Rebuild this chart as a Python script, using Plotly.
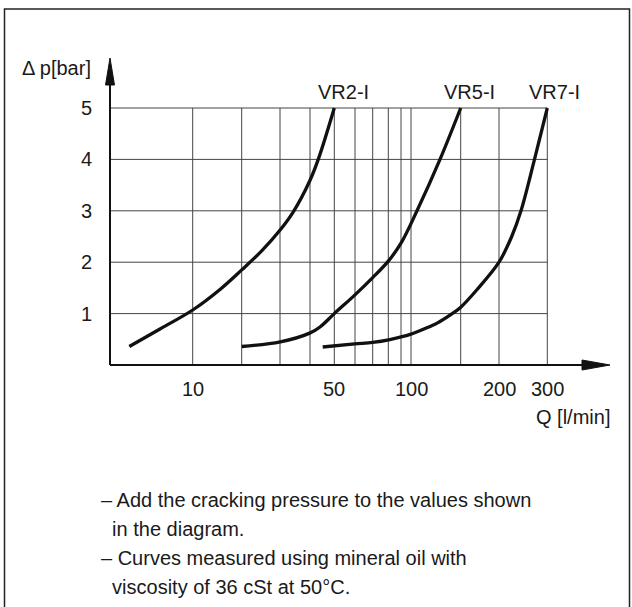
import plotly.graph_objects as go

# ---- data (x in chart position units along the schematic Q axis, y in bar) ----
grid_x = [82.7, 131.7, 170, 200, 224.3, 245, 262.7, 278.3, 291, 301, 350.7, 389, 437.3]
grid_y = [1, 2, 3, 4, 5]
x_tick_pos = [82.7, 224.3, 301, 389, 437.3]
x_tick_text = ["10", "50", "100", "200", "300"]
y_tick_vals = [1, 2, 3, 4, 5]

vr2_x = [19.3, 50, 82.7, 110, 131.7, 151.7, 170.3, 183.3, 199.7, 208.6, 224.3]
vr2_p = [0.36, 0.70, 1.07, 1.47, 1.85, 2.22, 2.63, 2.98, 3.58, 4.02, 5.0]

vr5_x = [131.7, 170.3, 199.7, 210, 224.3, 244.7, 262.7, 278.3, 291, 307, 330, 350.7]
vr5_p = [0.36, 0.45, 0.62, 0.74, 1.0, 1.36, 1.70, 2.02, 2.37, 3.0, 4.0, 5.0]

vr7_x = [212.7, 244.7, 262.7, 278.7, 301, 320, 326.7, 340, 350.5, 366.7, 389, 401.7, 411, 424.5, 437.3]
vr7_p = [0.35, 0.41, 0.44, 0.49, 0.60, 0.75, 0.81, 0.97, 1.12, 1.46, 2.0, 2.5, 3.0, 4.0, 5.0]

series_names = ["VR2-I", "VR5-I", "VR7-I"]
notes = ["– Add the cracking pressure to the values shown",
         "  in the diagram.",
         "– Curves measured using mineral oil with",
         "  viscosity of 36 cSt at 50°C."]

# ---- figure geometry ----
W, H = 632, 607
X0PX = 110.0      # pixel x of the y axis
Y0PX = 365.0      # pixel y of the x axis
UNIT = 51.4       # pixels per bar

def py(pix):      # pixel row -> bar value
    return (Y0PX - pix) / UNIT

def px(pix):      # pixel column -> position units
    return pix - X0PX

FONT = "Liberation Sans, Arial, sans-serif"
TXT = "#1a1a1a"
INK = "#111111"

fig = go.Figure()

# grid
gx, gy = [], []
xmax = grid_x[-1]
for g in grid_x:
    gx += [g, g, None]
    gy += [0, grid_y[-1], None]
for g in grid_y:
    gx += [0, xmax, None]
    gy += [g, g, None]
fig.add_trace(go.Scatter(x=gx, y=gy, mode="lines", line=dict(color="#444444", width=1),
                         hoverinfo="skip", showlegend=False))

# curves
for xs, ps, nm in [(vr2_x, vr2_p, series_names[0]), (vr5_x, vr5_p, series_names[1]),
                   (vr7_x, vr7_p, series_names[2])]:
    fig.add_trace(go.Scatter(x=xs, y=ps, mode="lines", name=nm,
                             line=dict(color=INK, width=3.3, shape="spline", smoothing=1.0),
                             showlegend=False))

# axis lines
fig.add_trace(go.Scatter(x=[0, px(584)], y=[0, 0], mode="lines",
                         line=dict(color=INK, width=2), hoverinfo="skip", showlegend=False))
fig.add_trace(go.Scatter(x=[0, 0], y=[0, py(84)], mode="lines",
                         line=dict(color=INK, width=2), hoverinfo="skip", showlegend=False))
# arrow heads
fig.add_trace(go.Scatter(x=[px(582), px(610), px(582), px(582)],
                         y=[py(360), py(365), py(370), py(360)],
                         mode="lines", fill="toself", fillcolor=INK,
                         line=dict(color=INK, width=1), hoverinfo="skip", showlegend=False))
fig.add_trace(go.Scatter(x=[px(105.5), px(110), px(114.5), px(105.5)],
                         y=[py(85), py(58), py(85), py(85)],
                         mode="lines", fill="toself", fillcolor=INK,
                         line=dict(color=INK, width=1), hoverinfo="skip", showlegend=False))

ann = []
for v in y_tick_vals:
    ann.append(dict(x=px(94), y=v, text=str(v), xanchor="right", yanchor="middle",
                    showarrow=False, font=dict(family=FONT, size=20, color=TXT)))
for pos, t in zip(x_tick_pos, x_tick_text):
    ann.append(dict(x=pos, y=py(389), text=t, xanchor="center", yanchor="middle",
                    showarrow=False, font=dict(family=FONT, size=20, color=TXT)))
for nm, cx in zip(series_names, [px(343), px(469), px(554)]):
    ann.append(dict(x=cx, y=py(92), text=nm, xanchor="center", yanchor="middle",
                    showarrow=False, font=dict(family=FONT, size=20, color=TXT)))
ann.append(dict(x=px(20), y=py(68), text="Δ p[bar]", xanchor="left", yanchor="middle",
                showarrow=False, font=dict(family=FONT, size=20, color=TXT)))
ann.append(dict(x=px(612), y=py(417), text="Q [l/min]", xanchor="right", yanchor="middle",
                showarrow=False, font=dict(family=FONT, size=20, color=TXT)))
note_x = [99, 99, 99, 99]
note_y = [500, 529, 558, 587]
for t, nx, ny in zip(notes, note_x, note_y):
    ann.append(dict(x=px(nx), y=py(ny), text=t.replace("  ", "&nbsp;&nbsp;"), xanchor="left",
                    yanchor="middle", showarrow=False, font=dict(family=FONT, size=20, color=TXT)))

fig.update_layout(
    width=W, height=H, margin=dict(l=0, r=0, t=0, b=0),
    paper_bgcolor="white", plot_bgcolor="white",
    xaxis=dict(range=[px(0), px(W)], visible=False, fixedrange=True),
    yaxis=dict(range=[py(H), py(0)], visible=False, fixedrange=True),
    annotations=ann,
    hovermode=False,
    shapes=[dict(type="rect", xref="paper", yref="paper",
                 x0=4.5 / W, x1=629.5 / W, y0=-0.02, y1=1 - 9 / H,
                 line=dict(color="#222222", width=1.5), fillcolor="rgba(0,0,0,0)")],
)

fig.write_html("out.html", config={"displayModeBar": False, "staticPlot": True},
               post_script="document.body.style.margin='0';document.body.style.padding='0';")
